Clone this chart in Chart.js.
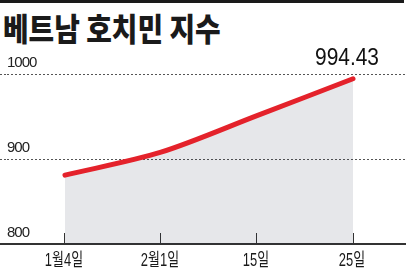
<!DOCTYPE html>
<html>
<head>
<meta charset="utf-8">
<script src="https://cdn.jsdelivr.net/npm/chart.js@4"></script>
<style>
  body { margin: 0; background: #fff; }
  #wrap { position: relative; width: 406px; height: 275px; overflow: hidden; }
  #topbar { position: absolute; left: 0; top: 0; width: 404px; height: 2.5px; background: #1a1a1a; }
  #title {
    position: absolute; left: 3px; top: 8px; margin: 0;
    font-family: 'Noto Sans CJK KR', sans-serif; font-weight: 900; font-size: 32px;
    line-height: 1.2; color: #1a1a1a; white-space: nowrap;
    transform: scaleX(0.87); transform-origin: left top;
  }
  canvas { position: absolute; left: 0; top: 0; }
</style>
</head>
<body>
<div id="wrap">
  <div id="topbar"></div>
  <h1 id="title">베트남 호치민 지수</h1>
  <canvas id="chart" width="406" height="275"></canvas>
</div>
<script>
// 호치민 지수 (VN-Index)
const categories = ['1월4일', '2월1일', '15일', '25일'];
const indexValues = [881, 908, 951, 994.43];
const yTicks = [800, 900, 1000];
const lastLabel = '994.43';

const numFont = "'Liberation Sans', 'Noto Sans CJK KR', sans-serif";

// condensed text, like the newspaper font
function drawNarrow(ctx, text, x, y, size, squeeze, color) {
    ctx.save();
    ctx.translate(x, y);
    ctx.scale(squeeze, 1);
    ctx.font = `${size}px ${numFont}`;
    ctx.fillStyle = color;
    ctx.textAlign = 'center';
    ctx.textBaseline = 'alphabetic';
    ctx.fillText(text, 0, 0);
    ctx.restore();
}

const narrowText = {
    id: 'narrowText',
    beforeDraw(chart) {
        chart.ctx.letterSpacing = '-1px';
    },
    afterDraw(chart) {
        const ctx = chart.ctx;
        ctx.letterSpacing = '0px';
        // category labels under the axis
        const xs = chart.scales.x;
        xs.ticks.forEach(t => {
            drawNarrow(ctx, categories[t.value], xs.getPixelForValue(t.value) - 1, xs.top + 22, 18, 0.72, '#1a1a1a');
        });
        // last value above the end of the line
        const meta = chart.getDatasetMeta(0);
        const pt = meta.data[meta.data.length - 1];
        drawNarrow(ctx, lastLabel, pt.x - 6, pt.y - 14, 24, 0.87, '#111');
    }
};

const isBase = (c) => c.tick && c.tick.value === yTicks[0];

new Chart(document.getElementById('chart'), {
    type: 'line',
    data: {
        datasets: [{
            data: indexValues.map((v, i) => ({ x: i, y: v })),
            borderColor: '#e4222b',
            borderWidth: 5,
            borderCapStyle: 'round',
            backgroundColor: 'rgba(30, 40, 60, 0.11)',
            fill: 'start',
            tension: 0.3,
            pointRadius: 0
        }]
    },
    options: {
        responsive: false,
        animation: false,
        events: [],
        layout: { padding: { top: 74, right: 0, bottom: 31, left: 0 } },
        plugins: { legend: { display: false }, tooltip: { enabled: false } },
        scales: {
            x: {
                type: 'linear',
                min: -0.604,
                max: 3.552,
                border: { display: false },
                grid: {
                    drawOnChartArea: false,
                    tickLength: -11,
                    tickColor: '#333',
                    tickWidth: 1
                },
                ticks: {
                    display: false,
                    stepSize: 1,
                    includeBounds: false,
                    autoSkip: false
                }
            },
            y: {
                min: yTicks[0],
                max: yTicks[yTicks.length - 1],
                afterBuildTicks: (axis) => { axis.ticks = yTicks.map(v => ({ value: v })); },
                border: {
                    display: false,
                    dash: (c) => isBase(c) ? [] : [2, 2]
                },
                grid: {
                    tickLength: 7,
                    color: (c) => isBase(c) ? '#333' : '#555',
                    lineWidth: (c) => isBase(c) ? 2 : 1,
                    tickColor: (c) => isBase(c) ? '#333' : '#555',
                    tickWidth: (c) => isBase(c) ? 2 : 1,
                    tickBorderDash: (c) => isBase(c) ? [] : [2, 2]
                },
                ticks: {
                    mirror: true,
                    padding: 0,
                    labelOffset: -11,
                    color: '#222',
                    font: { family: numFont, size: 15 },
                    callback: (v) => String(v)
                }
            }
        }
    },
    plugins: [narrowText]
});
</script>
</body>
</html>
